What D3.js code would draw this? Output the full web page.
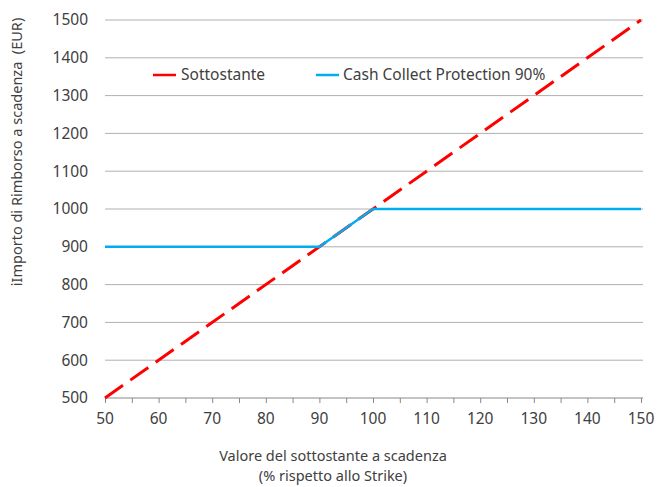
<!DOCTYPE html>
<html>
<head>
<meta charset="utf-8">
<script src="https://cdn.jsdelivr.net/npm/d3@7"></script>
<style>
    body { margin: 0; background: #fff; }
    text { font-family: "Noto Sans", sans-serif; fill: #404040; }
</style>
</head>
<body>
<div id="chart"></div>
<script>
const xTicks = [50, 60, 70, 80, 90, 100, 110, 120, 130, 140, 150];
const yTicks = [500, 600, 700, 800, 900, 1000, 1100, 1200, 1300, 1400, 1500];

// underlying vs. certificate payoff
const underlyingX = [50, 150];
const underlyingY = [500, 1500];
const protectionX = [50, 90, 100, 150];
const protectionY = [900, 900, 1000, 1000];

const seriesNames = ['Sottostante', 'Cash Collect Protection 90%'];
const colours = ['#ff0000', '#00aeef'];

const W = 657, H = 487;
const margin = { top: 20, right: 15, bottom: 89, left: 105 };
const width = 641 - margin.left;
const height = 398 - margin.top;

const svg = d3.select('#chart')
    .append('svg')
    .attr('width', W)
    .attr('height', H);

const g = svg.append('g')
    .attr('transform', `translate(${margin.left},${margin.top})`);

const x = d3.scaleLinear().domain([50, 150]).range([0, width]);
const y = d3.scaleLinear().domain([500, 1500]).range([height, 0]);

// gridlines
g.selectAll('.grid')
    .data(yTicks.slice(1))
    .enter()
    .append('line')
    .attr('x1', 0)
    .attr('x2', width + 2)
    .attr('y1', d => y(d))
    .attr('y2', d => y(d))
    .attr('stroke', '#b0b0b0')
    .attr('stroke-width', 1);

// y tick labels
g.selectAll('.ylab')
    .data(yTicks)
    .enter()
    .append('text')
    .attr('x', -17)
    .attr('y', d => y(d))
    .attr('dy', '0.35em')
    .attr('text-anchor', 'end')
    .style('font-size', '15.5px')
    .text(d => d);

// x axis
const xAxis = g.append('g')
    .attr('transform', `translate(0,${height})`)
    .call(d3.axisBottom(x).tickValues(d3.range(50, 151, 5)).tickSize(5).tickFormat(''));
xAxis.select('.domain').attr('stroke', '#888').attr('d', `M0,0H${width + 2}`);
xAxis.selectAll('.tick line').attr('stroke', '#888');

g.selectAll('.xlab')
    .data(xTicks)
    .enter()
    .append('text')
    .attr('x', d => x(d))
    .attr('y', height + 26)
    .attr('text-anchor', 'middle')
    .style('font-size', '15.5px')
    .text(d => d);

const line = d3.line()
    .x(d => x(d[0]))
    .y(d => y(d[1]));

g.append('path')
    .datum(d3.zip(underlyingX, underlyingY))
    .attr('fill', 'none')
    .attr('stroke', colours[0])
    .attr('stroke-width', 3)
    .attr('stroke-dasharray', '22,9')
    .attr('d', line);

g.append('path')
    .datum(d3.zip(protectionX, protectionY))
    .attr('fill', 'none')
    .attr('stroke', colours[1])
    .attr('stroke-width', 2.5)
    .attr('d', line);

// legend
const legend = [
    { x: 153, tx: 181 },
    { x: 316, tx: 343 }
];
legend.forEach((l, i) => {
    svg.append('line')
        .attr('x1', l.x)
        .attr('x2', l.x + 23)
        .attr('y1', 75)
        .attr('y2', 75)
        .attr('stroke', colours[i])
        .attr('stroke-width', 2.5);
    svg.append('text')
        .attr('x', l.tx)
        .attr('y', 80)
        .style('font-size', '15.5px')
        .text(seriesNames[i]);
});

// axis titles
svg.append('text')
    .attr('transform', 'translate(22,152) rotate(-90)')
    .attr('text-anchor', 'middle')
    .style('font-size', '14.5px')
    .attr('xml:space', 'preserve')
    .text('iImporto di Rimborso a scadenza  (EUR)');

svg.append('text')
    .attr('x', 333)
    .attr('y', 461)
    .attr('text-anchor', 'middle')
    .style('font-size', '14.5px')
    .text('Valore del sottostante a scadenza');
svg.append('text')
    .attr('x', 333)
    .attr('y', 481)
    .attr('text-anchor', 'middle')
    .style('font-size', '14.5px')
    .text('(% rispetto allo Strike)');
</script>
</body>
</html>
